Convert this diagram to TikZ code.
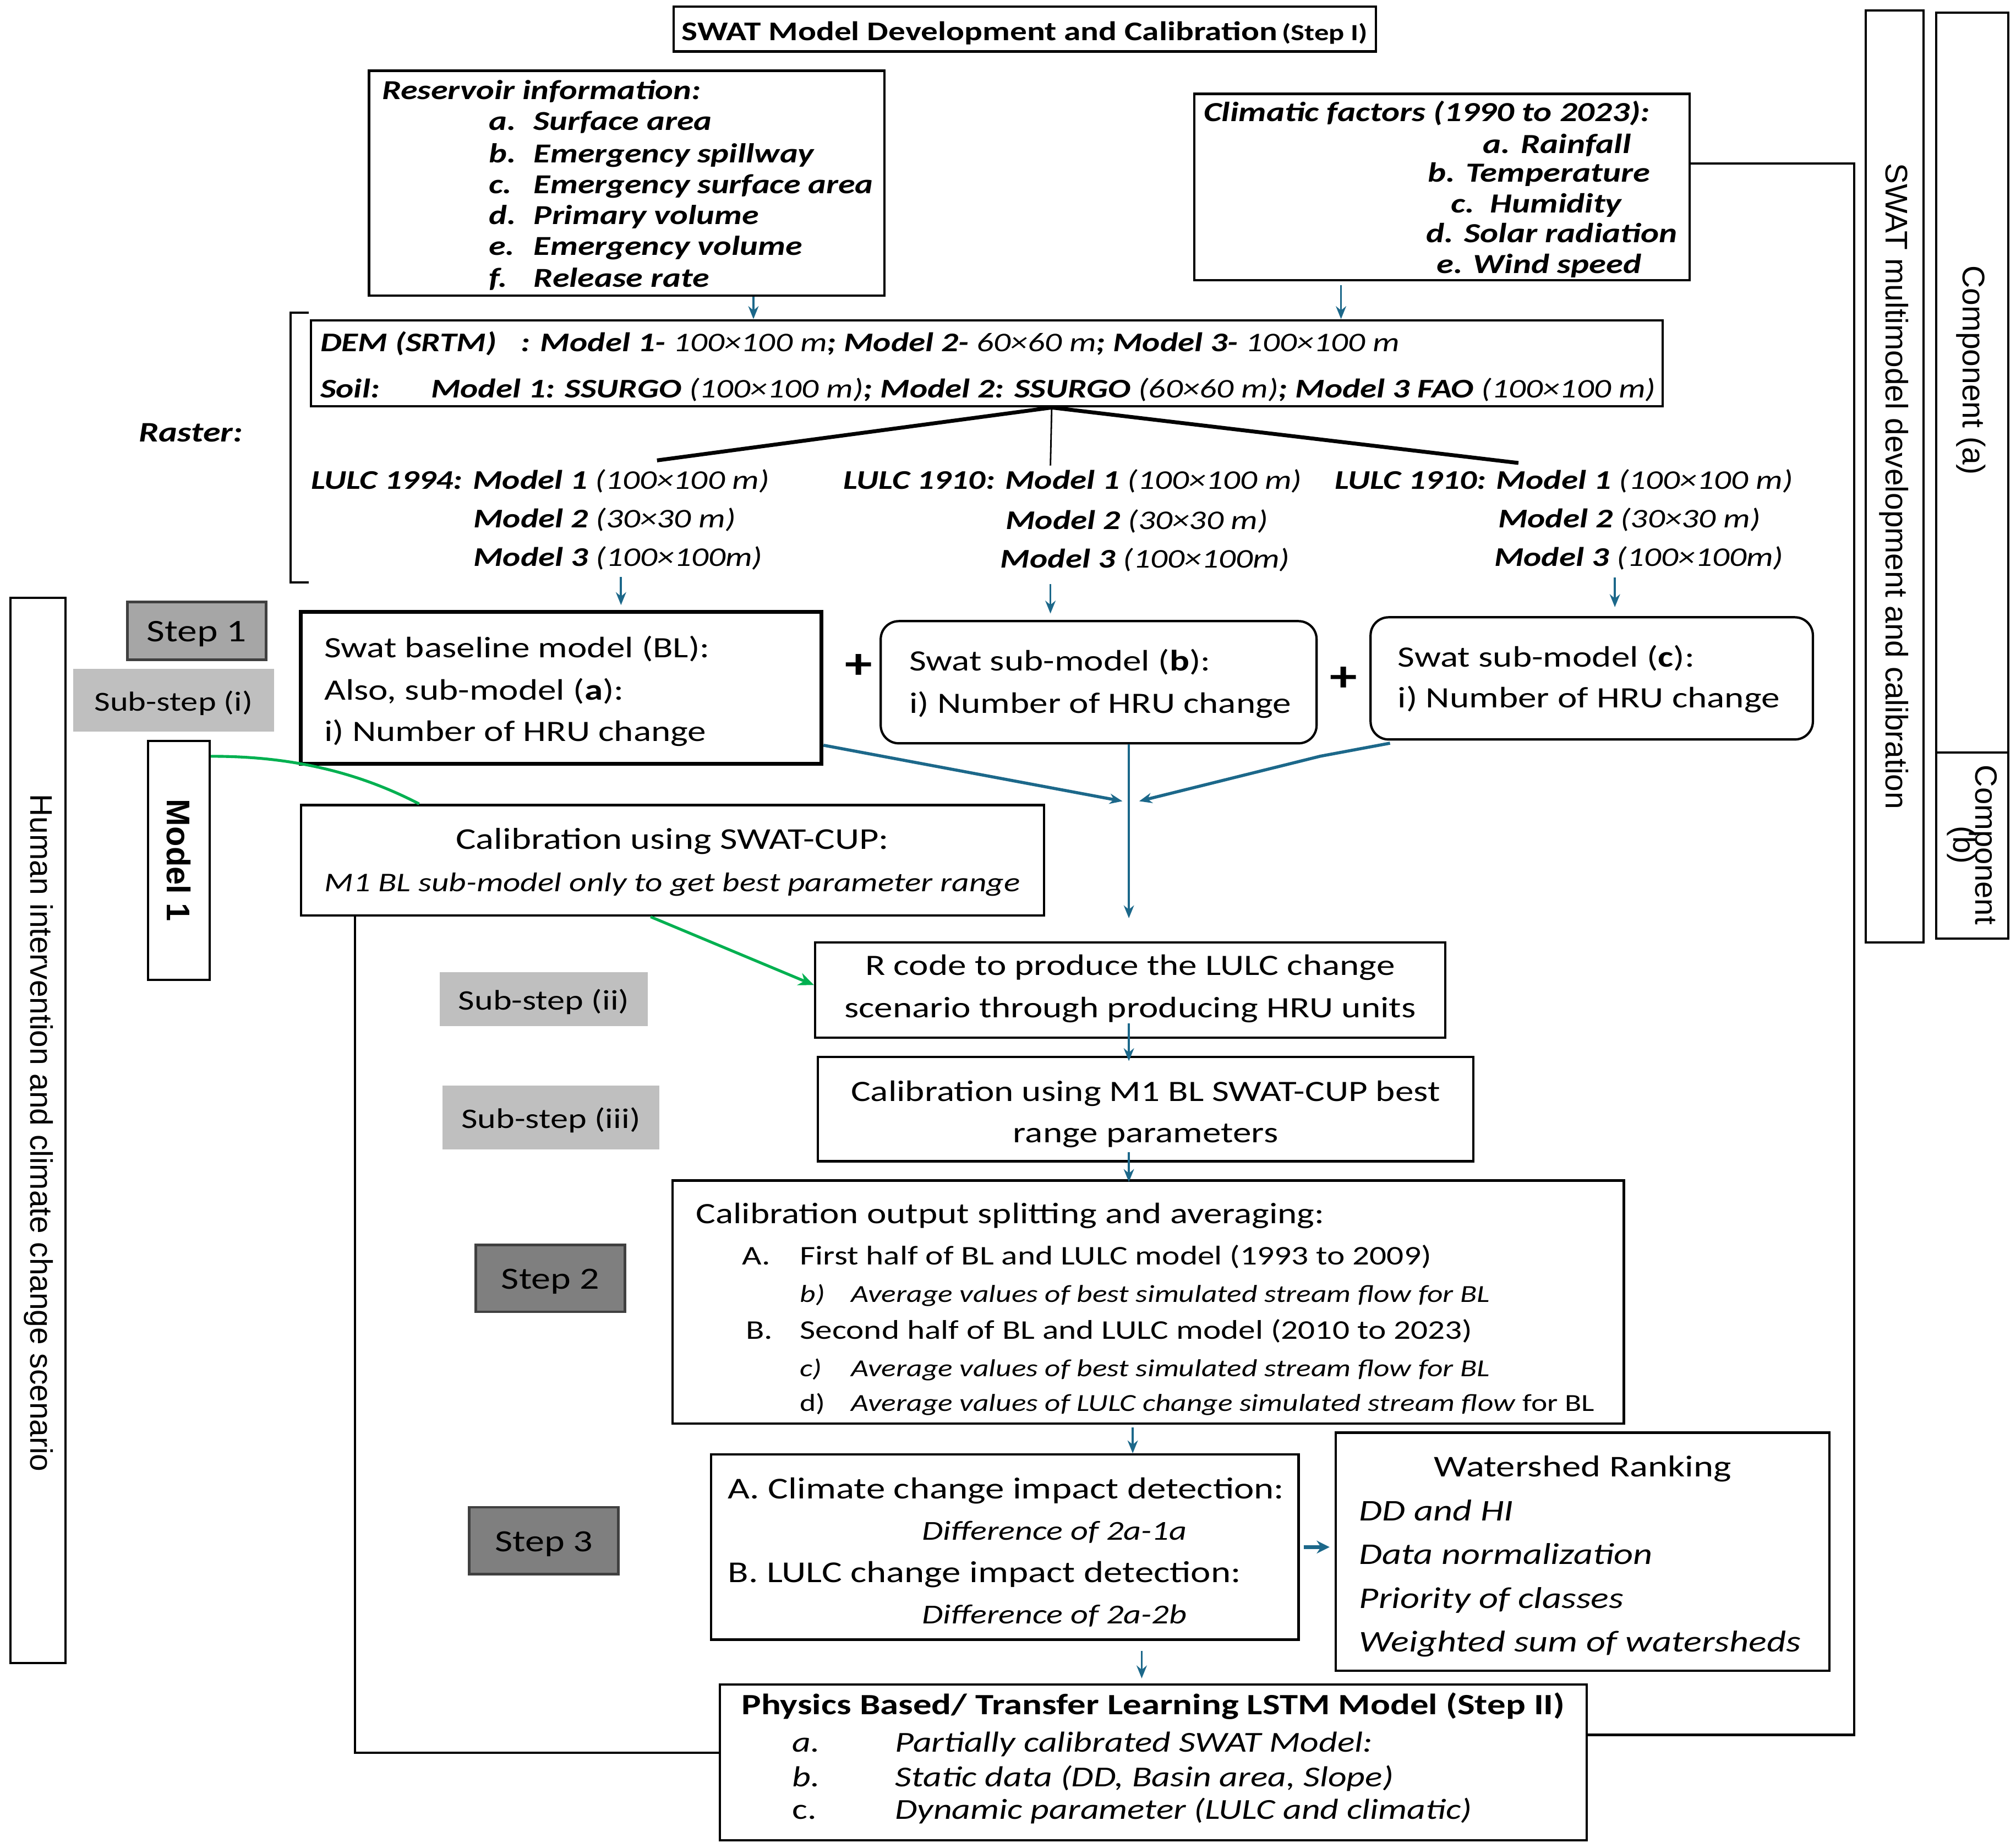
\documentclass[tikz,border=0pt]{standalone}
\usepackage{fontspec}
\setmainfont{Carlito}[FakeStretch=1.25]
\newfontfamily\arialf{Liberation Sans}
\usetikzlibrary{arrows.meta,calc}
\definecolor{arrowblue}{RGB}{28,104,138}
\definecolor{arrowgreen}{RGB}{0,176,80}
\definecolor{steponefill}{RGB}{166,166,166}
\definecolor{substepfill}{RGB}{191,191,191}
\definecolor{steptwofill}{RGB}{127,127,127}
\newcommand\fsz[1]{\fontsize{#1}{#1}\selectfont}
\newcommand\mybox[6]{\node[#6, minimum width={#4-#2}, minimum height={#5-#3}] (#1) at ({(#2+#4)/2},{(#3+#5)/2}) {};}
\begin{document}
\begin{tikzpicture}[x=1pt,y=-1pt,
  box/.style={draw=black, line width=1.8pt, inner sep=0pt, fill=white},
  thickbox/.style={box, line width=3pt},
  rbox/.style={box, rounded corners=14pt},
  stepbox/.style={draw=black!75, line width=2pt, fill=steponefill, inner sep=0pt},
  stepdark/.style={draw=black!75, line width=2pt, fill=steptwofill, inner sep=0pt},
  subbox/.style={draw=none, fill=substepfill, inner sep=0pt},
  txt/.style={inner sep=0pt, anchor=mid west, yshift=-6pt},
  ctxt/.style={inner sep=0pt, anchor=mid, yshift=-6pt},
  arr/.style={draw=arrowblue, line width=1.6pt, -{Stealth[length=10pt,width=8pt]}},
  garr/.style={draw=arrowgreen, line width=2.2pt},
  conn/.style={draw=black, line width=1.8pt},
  vtxt/.style={inner sep=0pt, rotate=-90, font=\arialf\fsz{24.3}}
]
\useasboundingbox (0,0) rectangle (1568,1437);

% ---------- title ----------
\mybox{title}{524}{5}{1070}{40}{box}
\node[ctxt] (titletxt) at (797,23) {\fsz{21}\bfseries SWAT Model Development and Calibration\,{\fsz{18}(Step I)}};

% ---------- reservoir ----------
\mybox{res}{287}{55}{688}{230}{box}
\begin{scope}[every node/.style={txt, font=\fsz{21.3}\bfseries\itshape}]
\node (resT) at (297,69) {Reservoir information:};
\node (resa) at (380,93)  {\makebox[35pt][l]{a.}Surface area};
\node (resb) at (380,118) {\makebox[35pt][l]{b.}Emergency spillway};
\node (resc) at (380,142) {\makebox[35pt][l]{c.}Emergency surface area};
\node (resd) at (380,166) {\makebox[35pt][l]{d.}Primary volume};
\node (rese) at (380,190) {\makebox[35pt][l]{e.}Emergency volume};
\node (resf) at (380,215) {\makebox[35pt][l]{f.}Release rate};
\end{scope}

% ---------- climatic ----------
\mybox{clim}{929}{73}{1314}{218}{box}
\node[txt, font=\fsz{21.5}\bfseries\itshape] (climT) at (936,86) {Climatic factors (1990 to 2023):};
\begin{scope}[every node/.style={ctxt, font=\fsz{21.5}\bfseries\itshape}]
\node (clima) at (1211,111) {a. Rainfall};
\node (climb) at (1197,133) {b. Temperature};
\node (climc) at (1195,157) {c.\ \ Humidity};
\node (climd) at (1207,180) {d. Solar radiation};
\node (clime) at (1197,204) {e. Wind speed};
\end{scope}

% ---------- DEM / soil ----------
\mybox{dem}{242}{249}{1293}{316}{box}
\begin{scope}[every node/.style={txt, font=\fsz{21}}]
\node (demA) at (249,265) {\bfseries\itshape DEM (SRTM)};
\node (demB) at (405,265) {\textbf{\textit{: Model 1-}} \textit{100×100 m}\textbf{\textit{; Model 2-}} \textit{60×60 m}\textbf{\textit{; Model 3-}} \textit{100×100 m}};
\node (soilA) at (249,301) {\bfseries\itshape Soil:};
\node (soilB) at (335,301) {\textbf{\textit{Model 1: SSURGO}} \textit{(100×100 m)}\textbf{\textit{; Model 2: SSURGO}} \textit{(60×60 m)}\textbf{\textit{; Model 3 FAO}} \textit{(100×100 m)}};
\node[font=\fsz{22}] (raster) at (108,335) {\bfseries\itshape Raster:};
% LULC columns
\node (l1a) at (242,372) {\textbf{\textit{LULC 1994: Model 1}} \textit{(100×100 m)}};
\node (l1b) at (368,402) {\textbf{\textit{Model 2}} \textit{(30×30 m)}};
\node (l1c) at (368,432) {\textbf{\textit{Model 3}} \textit{(100×100m)}};
\node (l2a) at (656,372) {\textbf{\textit{LULC 1910: Model 1}} \textit{(100×100 m)}};
\node (l2b) at (782,403) {\textbf{\textit{Model 2}} \textit{(30×30 m)}};
\node (l2c) at (778,433) {\textbf{\textit{Model 3}} \textit{(100×100m)}};
\node (l3a) at (1038,372) {\textbf{\textit{LULC 1910: Model 1}} \textit{(100×100 m)}};
\node (l3b) at (1165,402) {\textbf{\textit{Model 2}} \textit{(30×30 m)}};
\node (l3c) at (1162,432) {\textbf{\textit{Model 3}} \textit{(100×100m)}};
\end{scope}

% raster bracket
\coordinate (brT) at (240,243);
\coordinate (brB) at (240,453);
\draw[line width=1.8pt] (brT) -- (226,243) -- (226,453) -- (brB);

% branch lines
\coordinate (xm) at (818,0);
\coordinate (br1) at (511,358);
\coordinate (br2) at (817,362);
\coordinate (br3) at (1181,360);
\draw[line width=3pt] (br1) -- (dem.south -| xm) -- (br3);
\draw[line width=1.2pt] (dem.south -| xm) -- (br2);

% arrows into DEM
\coordinate (xa) at (586,0);
\coordinate (xb) at (1043,0);
\draw[arr] (res.south -| xa) -- (dem.north -| xa);
\draw[arr] ($(clim.south -| xb)+(0,3)$) -- (dem.north -| xb);

% ---------- Step 1 row ----------
\mybox{base}{234}{476}{639}{594}{thickbox}
\begin{scope}[every node/.style={txt, font=\fsz{23}}]
\node (baseA) at (252,503) {Swat baseline model (BL):};
\node (baseB) at (252,536) {Also, sub-model (\textbf{a}):};
\node (baseC) at (252,568) {i) Number of HRU change};
\end{scope}
\node[ctxt, font=\fsz{34}\bfseries] (plus1) at (668,519) {+};
\mybox{subb}{685}{483}{1024}{578}{rbox}
\node[txt, font=\fsz{23}] (subbA) at (707,513) {Swat sub-model (\textbf{b}):};
\node[txt, font=\fsz{23}] (subbB) at (707,546) {i) Number of HRU change};
\node[ctxt, font=\fsz{34}\bfseries] (plus2) at (1045,529) {+};
\mybox{subc}{1066}{480}{1410}{575}{rbox}
\node[txt, font=\fsz{23}] (subcA) at (1087,510) {Swat sub-model (\textbf{c}):};
\node[txt, font=\fsz{23}] (subcB) at (1087,542) {i) Number of HRU change};

% arrows from LULC columns
\coordinate (xc1) at (483,0);
\coordinate (xc2) at (817,0);
\coordinate (xc3) at (1256,0);
\draw[arr] ($(base.north -| xc1)+(0,-26)$) -- ($(base.north -| xc1)+(0,-4)$);
\draw[arr] ($(subb.north -| xc2)+(0,-28)$) -- ($(subb.north -| xc2)+(0,-5)$);
\draw[arr] ($(subc.north -| xc3)+(0,-30)$) -- ($(subc.north -| xc3)+(0,-7)$);

% step labels left
\mybox{step1}{99}{468}{207}{513}{stepbox}
\node[ctxt, font=\fsz{24.5}] (step1t) at (step1) {Step 1};
\mybox{sub1}{57}{520}{213}{569}{subbox}
\node[ctxt, font=\fsz{21.4}] (sub1t) at (sub1) {Sub-step (i)};
\mybox{model1}{115}{576}{163}{762}{box}
\node[vtxt, font=\arialf\fsz{25.5}\bfseries] (model1t) at (139,669) {Model 1};
\mybox{human}{8}{465}{51}{1293}{box}
\node[vtxt] (humant) at (30,881) {Human intervention and climate change scenario};

% right side bars
\mybox{multi}{1451}{8}{1496}{733}{box}
\node[vtxt] (multit) at (1473,378) {SWAT multimodel development and calibration};
\mybox{compa}{1506}{10}{1562}{585}{box}
\node[vtxt, font=\arialf\fsz{24.4}] (compat) at (1533,288) {Component (a)};
\mybox{compb}{1506}{585}{1562}{730}{box}
\node[vtxt, font=\arialf\fsz{24}, align=center] (compbt) at (1534,657) {Component\\[-7pt](b)};

% ---------- calibration SWAT-CUP ----------
\mybox{cal1}{234}{626}{812}{712}{box}
\node[ctxt, font=\fsz{23.5}] (cal1A) at (523,652) {Calibration using SWAT-CUP:};
\node[ctxt, font=\fsz{21}\itshape] (cal1B) at (523,685) {M1 BL sub-model only to get best parameter range};

% converging arrows
\coordinate (jl) at (873,623);
\coordinate (jk) at (1027,588);
\coordinate (jr) at (886,623);
\coordinate (xv) at (878,0);
\coordinate (vend) at (878,714);
\draw[arr, line width=2.4pt] ($(base.south east)+(0,-16)$) -- (jl);
\draw[arr, line width=2.4pt] ($(subc.south west)+(16,2)$) -- (jk) -- (jr);
\draw[arr, line width=1.4pt] (subb.south -| xv) -- (vend);

% green connectors
\coordinate (xg) at (326,0);
\coordinate (xg2) at (506,0);
\draw[garr] ($(model1.north east)+(0,13)$) .. controls (215,588) and (270,596) .. (cal1.north -| xg);

% ---------- R code ----------
\mybox{rcode}{634}{733}{1124}{807}{box}
\node[ctxt, font=\fsz{23}] (rcodeA) at (879,750) {R code to produce the LULC change};
\node[ctxt, font=\fsz{23}] (rcodeB) at (879,783) {scenario through producing HRU units};
\mybox{sub2}{342}{756}{504}{798}{subbox}
\node[ctxt, font=\fsz{22}] (sub2t) at (sub2) {Sub-step (ii)};
\draw[garr, -{Stealth[length=12pt,width=10pt]}] (cal1.south -| xg2) -- ($(rcode.west)+(0,-4)$);

% ---------- calibration M1 ----------
\mybox{cal2}{636}{822}{1146}{903}{box}
\node[ctxt, font=\fsz{23}] (cal2A) at (891,848) {Calibration using M1 BL SWAT-CUP best};
\node[ctxt, font=\fsz{23}] (cal2B) at (891,880) {range parameters};
\mybox{sub3}{344}{844}{513}{894}{subbox}
\node[ctxt, font=\fsz{22}] (sub3t) at (sub3) {Sub-step (iii)};
\draw[arr] ($(rcode.south -| xv)+(0,-12)$) -- ($(cal2.north -| xv)+(0,4)$);

% ---------- calibration output ----------
\mybox{outp}{523}{918}{1263}{1107}{box}
\draw[arr] ($(cal2.south -| xv)+(0,-8)$) -- ($(outp.north -| xv)+(0,2)$);
\node[txt, font=\fsz{23}] (outT) at (541,943) {Calibration output splitting and averaging:};
\node[txt, font=\fsz{21}] (outA) at (577,975) {A.};
\node[txt, font=\fsz{21}] (outAt) at (622,975) {First half of BL and LULC model (1993 to 2009)};
\node[txt, font=\fsz{19}\itshape] (outb) at (622,1004) {b)};
\node[txt, font=\fsz{19}\itshape] (outbt) at (662,1004) {Average values of best simulated stream flow for BL};
\node[txt, font=\fsz{21}] (outB) at (580,1033) {B.};
\node[txt, font=\fsz{21}] (outBt) at (622,1033) {Second half of BL and LULC model (2010 to 2023)};
\node[txt, font=\fsz{19}\itshape] (outc) at (622,1062) {c)};
\node[txt, font=\fsz{19}\itshape] (outct) at (662,1062) {Average values of best simulated stream flow for BL};
\node[txt, font=\fsz{19}] (outd) at (622,1089) {d)};
\node[txt, font=\fsz{19}] (outdt) at (662,1089) {\textit{Average values of LULC change simulated stream flow} for BL};
\mybox{step2}{370}{968}{486}{1020}{stepdark}
\node[ctxt, font=\fsz{24}] (step2t) at (step2) {Step 2};

% ---------- step 3 ----------
\coordinate (xo) at (881,0);
\mybox{impact}{553}{1131}{1010}{1275}{box}
\draw[arr] ($(outp.south -| xo)+(0,2)$) -- (impact.north -| xo);
\node[txt, font=\fsz{23.6}] (impA) at (566,1157) {A. Climate change impact detection:};
\node[txt, font=\fsz{21.3}\itshape] (impAt) at (717,1189) {Difference of 2a-1a};
\node[txt, font=\fsz{23.6}] (impB) at (566,1222) {B. LULC change impact detection:};
\node[txt, font=\fsz{21.3}\itshape] (impBt) at (717,1254) {Difference of 2a-2b};
\mybox{rank}{1039}{1114}{1423}{1299}{box}
\node[ctxt, font=\fsz{23.5}] (rankT) at (1231,1140) {Watershed Ranking};
\begin{scope}[every node/.style={txt, font=\fsz{23.4}\itshape}]
\node (rank1) at (1057,1174) {DD and HI};
\node (rank2) at (1057,1208) {Data normalization};
\node (rank3) at (1057,1242) {Priority of classes};
\node (rank4) at (1057,1276) {Weighted sum of watersheds};
\end{scope}
\coordinate (yr) at (0,1203);
\draw[arr, line width=3pt, -{Stealth[length=10pt,width=10pt]}] ($(impact.east |- yr)+(3,0)$) -- ($(rank.west |- yr)+(-4,0)$);
\mybox{step3}{365}{1172}{481}{1224}{stepdark}
\node[ctxt, font=\fsz{24}] (step3t) at (step3) {Step 3};

% ---------- physics ----------
\mybox{phys}{560}{1310}{1234}{1431}{box}
\coordinate (xp) at (888,0);
\draw[arr] ($(impact.south -| xp)+(0,8)$) -- ($(phys.north -| xp)+(0,-4)$);
\node[ctxt, font=\fsz{22.9}\bfseries] (physT) at (897,1325) {Physics Based/ Transfer Learning LSTM Model (Step II)};
\begin{scope}[every node/.style={txt, font=\fsz{22.5}\itshape}]
\node (physa) at (616,1354) {a.};
\node (physat) at (696,1354) {Partially calibrated SWAT Model:};
\node (physb) at (616,1381) {b.};
\node (physbt) at (696,1381) {Static data (DD, Basin area, Slope)};
\node[font=\fsz{22.5}] (physc) at (616,1406) {c.};
\node (physct) at (696,1406) {Dynamic parameter (LULC and climatic)};
\end{scope}

% ---------- black connectors ----------
\coordinate (rc1) at (1442,127);
\coordinate (rc2) at (1442,1349);
\draw[conn] (clim.east |- rc1) -- (rc1) -- (rc2) -- (phys.east |- rc2);
\coordinate (lc1) at (276,1363);
\draw[conn] (cal1.south -| lc1) -- (lc1) -- (phys.west |- lc1);
\end{tikzpicture}
\end{document}
